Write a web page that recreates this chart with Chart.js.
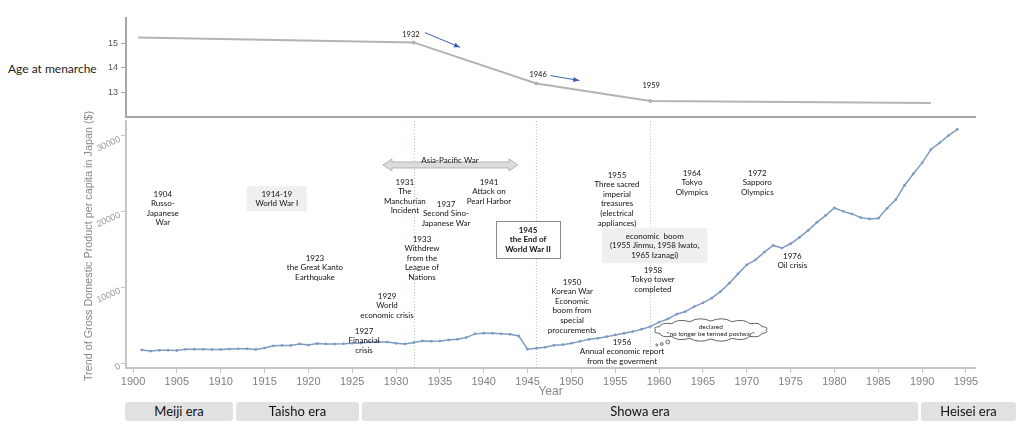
<!DOCTYPE html>
<html>
<head>
<meta charset="utf-8">
<script src="https://cdn.jsdelivr.net/npm/chart.js@4.4.1/dist/chart.umd.min.js"></script>
<style>
  body { margin: 0; background: #fff; width: 1027px; height: 428px; overflow: hidden; position: relative; font-family: Lato, sans-serif; }
  #menarche { position: absolute; left: 8px; top: 61px; font-size: 12px; color: #222; }
  canvas { position: absolute; left: 0; }
  .era { position: absolute; top: 402px; height: 19px; background: #e1e1e1; border-radius: 3px; font-size: 13px; color: #111; text-align: center; line-height: 19px; }
</style>
</head>
<body>
<div id="menarche">Age at menarche</div>
<canvas id="ageChart" width="1027" height="125" style="top:0"></canvas>
<canvas id="gdpChart" width="1027" height="295" style="top:105px"></canvas>
<div id="eras"></div>
<script>
// ---- data ----
const ageYears = [1900.6, 1932, 1946, 1959, 1991];
const ageValues = [15.24, 15.04, 13.36, 12.64, 12.56];
const ageMarkedYears = [1932, 1946, 1959];

const gdpYears = [
  1901, 1902, 1903, 1904, 1905, 1906, 1907, 1908, 1909, 1910,
  1911, 1912, 1913, 1914, 1915, 1916, 1917, 1918, 1919, 1920,
  1921, 1922, 1923, 1924, 1925, 1926, 1927, 1928, 1929, 1930,
  1931, 1932, 1933, 1934, 1935, 1936, 1937, 1938, 1939, 1940,
  1941, 1942, 1943, 1944, 1945, 1946, 1947, 1948, 1949, 1950,
  1951, 1952, 1953, 1954, 1955, 1956, 1957, 1958, 1959, 1960,
  1961, 1962, 1963, 1964, 1965, 1966, 1967, 1968, 1969, 1970,
  1971, 1972, 1973, 1974, 1975, 1976, 1977, 1978, 1979, 1980,
  1981, 1982, 1983, 1984, 1985, 1986, 1987, 1988, 1989, 1990,
  1991, 1992, 1993, 1994
];
const gdpValues = [
  1730, 1580, 1680, 1680, 1650, 1810, 1820, 1810, 1800, 1800,
  1840, 1880, 1880, 1800, 1970, 2270, 2320, 2320, 2520, 2370,
  2570, 2520, 2500, 2530, 2600, 2640, 2760, 2780, 2760, 2600,
  2520, 2700, 2910, 2860, 2900, 3050, 3130, 3360, 3850, 3930,
  3930, 3850, 3800, 3570, 1820, 1940, 2070, 2340, 2420, 2600,
  2860, 3130, 3260, 3480, 3710, 3930, 4150, 4460, 4810, 5400,
  5820, 6450, 6800, 7460, 7950, 8570, 9440, 10550, 11780, 12980,
  13640, 14660, 15540, 15190, 15760, 16600, 17530, 18590, 19510, 20490,
  20040, 19700, 19210, 19040, 19120, 20440, 21600, 23490, 25000, 26450,
  28210, 29100, 30060, 30860
];

const xTickYears = [1900, 1905, 1910, 1915, 1920, 1925, 1930, 1935, 1940, 1945,
  1950, 1955, 1960, 1965, 1970, 1975, 1980, 1985, 1990, 1995];
const ageTicks = [13, 14, 15];
const gdpTicks = [0, 10000, 20000, 30000];
const turningYears = [1932, 1946, 1959];
const eraNames = ['Meiji era', 'Taisho era', 'Showa era', 'Heisei era'];

// annotations anchored in data space (year, GDP) for the first text line
const notes = [
  { year: 1903.4, value: 22330, lines: ['1904', 'Russo-', 'Japanese', 'War'] },
  { year: 1916.4, value: 22330, lines: ['1914-19', 'World War I'], box: { w: 60, h: 25, fill: '#efefef' } },
  { year: 1920.75, value: 13880, lines: ['1923', 'the Great Kanto', 'Earthquake'] },
  { year: 1928.97, value: 8850, lines: ['1929', 'World', 'economic crisis'] },
  { year: 1926.35, value: 4230, lines: ['1927', 'Financial', 'crisis'] },
  { year: 1931.0, value: 23920, lines: ['1931', 'The', 'Manchurian', 'Incident'] },
  { year: 1935.7, value: 21010, lines: ['1937', 'Second Sino-', 'Japanese War'] },
  { year: 1940.6, value: 23920, lines: ['1941', 'Attack on', 'Pearl Harbor'] },
  { year: 1932.96, value: 16390, lines: ['1933', 'Withdrew', 'from the', 'League of', 'Nations'] },
  { year: 1945.05, value: 17580, lines: ['1945', 'the End of', 'World War II'], bold: true, box: { w: 64, h: 37, fill: '#fff', stroke: '#8c8c8c' } },
  { year: 1950.07, value: 10700, lines: ['1950', 'Korean War', 'Economic', 'boom from', 'special', 'procurements'] },
  { year: 1955.77, value: 2780, lines: ['1956', 'Annual economic report', 'from the goverment'] },
  { year: 1955.2, value: 24840, lines: ['1955', 'Three sacred', 'imperial', 'treasures', '(electrical', 'appliances)'] },
  { year: 1959.5, value: 16780, lines: ['economic  boom', '(1955 Jinmu, 1958 Iwato,', '1965 Izanagi)'], box: { w: 105, h: 35, fill: '#efefef' } },
  { year: 1959.3, value: 12290, lines: ['1958', 'Tokyo tower', 'completed'] },
  { year: 1963.75, value: 25110, lines: ['1964', 'Tokyo', 'Olympics'] },
  { year: 1971.2, value: 25110, lines: ['1972', 'Sapporo', 'Olympics'] },
  { year: 1975.2, value: 14140, lines: ['1976', 'Oil crisis'] }
];
const warArrow = { from: 1928.5, to: 1943.9, value: 26170, label: 'Asia-Pacific War', labelYear: 1936.15, labelValue: 26830 };
const cloudNote = { year: 1965.9, value: 4360, lines: ['declared', '"no longer be termed postwar"'] };

const ageNotes = [
  { year: 1931.7, value: 15.36, text: '1932' },
  { year: 1946.2, value: 13.72, text: '1946' },
  { year: 1959.1, value: 13.28, text: '1959' }
];
const ageArrows = [
  { x0: 1933.3, y0: 15.44, x1: 1937.3, y1: 14.84 },
  { x0: 1947.6, y0: 13.68, x1: 1950.9, y1: 13.48 }
];

const xMin = 1899.2;
const xMax = 1996.03;

// ---- era strip ----
const eraBoxes = [[125, 108], [236, 123], [362, 556], [921, 95]];
const erasEl = document.getElementById('eras');
eraNames.forEach((name, i) => {
  const d = document.createElement('div');
  d.className = 'era';
  d.style.left = eraBoxes[i][0] + 'px';
  d.style.width = eraBoxes[i][1] + 'px';
  d.textContent = name;
  erasEl.appendChild(d);
});

function arrowHead(ctx, x0, y0, x1, y1, len, half) {
  const a = Math.atan2(y1 - y0, x1 - x0);
  ctx.beginPath();
  ctx.moveTo(x1, y1);
  ctx.lineTo(x1 - len * Math.cos(a) + half * Math.sin(a), y1 - len * Math.sin(a) - half * Math.cos(a));
  ctx.lineTo(x1 - len * Math.cos(a) - half * Math.sin(a), y1 - len * Math.sin(a) + half * Math.cos(a));
  ctx.closePath();
  ctx.fill();
}

const ageDecor = {
  id: 'ageDecor',
  afterDraw(chart) {
    const { ctx, scales: { x, y } } = chart;
    ctx.save();
    ctx.fillStyle = '#111';
    ctx.font = '7.5px Lato';
    ctx.textAlign = 'center';
    ctx.textBaseline = 'middle';
    ageNotes.forEach(n => ctx.fillText(n.text, x.getPixelForValue(n.year), y.getPixelForValue(n.value)));
    ctx.strokeStyle = '#3b63b3';
    ctx.fillStyle = '#3b63b3';
    ctx.lineWidth = 1;
    ageArrows.forEach(a => {
      const px0 = x.getPixelForValue(a.x0), py0 = y.getPixelForValue(a.y0);
      const px1 = x.getPixelForValue(a.x1), py1 = y.getPixelForValue(a.y1);
      ctx.beginPath();
      ctx.moveTo(px0, py0);
      ctx.lineTo(px1, py1);
      ctx.stroke();
      arrowHead(ctx, px0, py0, px1, py1, 6, 2.5);
    });
    ctx.restore();
  }
};

new Chart(document.getElementById('ageChart'), {
  type: 'line',
  data: {
    datasets: [{
      data: ageYears.map((yr, i) => ({ x: yr, y: ageValues[i] })),
      borderColor: '#b3b3b3',
      borderWidth: 2,
      pointRadius: ageYears.map(yr => ageMarkedYears.includes(yr) ? 2 : 0),
      pointBackgroundColor: '#b3b3b3',
      pointBorderWidth: 0,
      tension: 0
    }]
  },
  options: {
    responsive: false,
    animation: false,
    events: [],
    layout: { padding: { left: 0, right: 52, top: 18, bottom: 0 } },
    plugins: { legend: { display: false }, tooltip: { enabled: false } },
    scales: {
      x: {
        type: 'linear', min: xMin, max: xMax,
        ticks: { display: false },
        grid: { drawOnChartArea: false, drawTicks: false, color: '#a6a6a6' },
        border: { color: '#a6a6a6', width: 2 },
        afterFit(s) { s.height = 6; }
      },
      y: {
        min: 12, max: 16.04,
        afterBuildTicks(s) { s.ticks = ageTicks.map(v => ({ value: v })); },
        ticks: { color: '#555', font: { size: 9, family: 'Liberation Sans' }, padding: 3 },
        grid: { drawOnChartArea: false, tickLength: 5, color: '#a6a6a6' },
        border: { color: '#a6a6a6', width: 2 },
        afterFit(s) { s.width = 126; }
      }
    }
  },
  plugins: [ageDecor]
});

function drawCloud(ctx, cx, cy, rx, ry, n, bump) {
  ctx.beginPath();
  for (let i = 0; i <= n; i++) {
    const a = -Math.PI / 2 + i * 2 * Math.PI / n;
    const px = cx + rx * Math.cos(a), py = cy + ry * Math.sin(a);
    if (i === 0) { ctx.moveTo(px, py); continue; }
    const am = a - Math.PI / n;
    const qx = cx + (rx + bump) * Math.cos(am), qy = cy + (ry + bump) * Math.sin(am);
    ctx.quadraticCurveTo(qx, qy, px, py);
  }
  ctx.closePath();
  ctx.fill();
  ctx.stroke();
}

const gdpDecor = {
  id: 'gdpDecor',
  beforeDatasetsDraw(chart) {
    const { ctx, chartArea, scales: { x } } = chart;
    ctx.save();
    ctx.strokeStyle = 'rgba(150,195,150,0.75)';
    ctx.setLineDash([1, 2]);
    ctx.lineWidth = 1;
    turningYears.forEach(yr => {
      const px = Math.round(x.getPixelForValue(yr)) + 0.5;
      ctx.beginPath();
      ctx.moveTo(px, chartArea.top);
      ctx.lineTo(px, chartArea.bottom);
      ctx.stroke();
    });
    ctx.restore();
  },
  afterDraw(chart) {
    const { ctx, chartArea, scales: { x, y } } = chart;
    ctx.save();

    // rotated y tick labels
    ctx.fillStyle = '#999';
    ctx.font = '9px Liberation Sans';
    ctx.textAlign = 'right';
    ctx.textBaseline = 'middle';
    y.ticks.forEach(t => {
      ctx.save();
      ctx.translate(chartArea.left - 6, y.getPixelForValue(t.value) + 3);
      ctx.rotate(-0.42);
      ctx.fillText(String(t.value), 0, 0);
      ctx.restore();
    });

    // axis titles
    ctx.fillStyle = '#888';
    ctx.font = '10.8px Liberation Sans';
    ctx.textAlign = 'center';
    ctx.save();
    ctx.translate(89, chartArea.top + 125);
    ctx.rotate(-Math.PI / 2);
    ctx.fillText('Trend of Gross Domestic Product per capita in Japan ($)', 0, 0);
    ctx.restore();
    ctx.font = '12px Liberation Sans';
    ctx.fillText('Year', (chartArea.left + chartArea.right) / 2, chartArea.bottom + 24);

    // war arrow
    const ax0 = x.getPixelForValue(warArrow.from), ax1 = x.getPixelForValue(warArrow.to);
    const ay = y.getPixelForValue(warArrow.value);
    ctx.fillStyle = '#dcdcdc';
    ctx.strokeStyle = '#b5b5b5';
    ctx.lineWidth = 1;
    ctx.beginPath();
    ctx.moveTo(ax0, ay);
    ctx.lineTo(ax0 + 9, ay - 6);
    ctx.lineTo(ax0 + 9, ay - 3);
    ctx.lineTo(ax1 - 9, ay - 3);
    ctx.lineTo(ax1 - 9, ay - 6);
    ctx.lineTo(ax1, ay);
    ctx.lineTo(ax1 - 9, ay + 6);
    ctx.lineTo(ax1 - 9, ay + 3);
    ctx.lineTo(ax0 + 9, ay + 3);
    ctx.lineTo(ax0 + 9, ay + 6);
    ctx.closePath();
    ctx.fill();
    ctx.stroke();
    ctx.fillStyle = '#111';
    ctx.font = '8px Lato';
    ctx.textBaseline = 'middle';
    ctx.fillText(warArrow.label, x.getPixelForValue(warArrow.labelYear), y.getPixelForValue(warArrow.labelValue));

    // text notes
    const lh = 9.6;
    notes.forEach(n => {
      const cx = x.getPixelForValue(n.year);
      const cy = y.getPixelForValue(n.value);
      if (n.box) {
        const mid = cy + (n.lines.length - 1) * lh / 2;
        ctx.fillStyle = n.box.fill;
        ctx.fillRect(cx - n.box.w / 2, mid - n.box.h / 2, n.box.w, n.box.h);
        if (n.box.stroke) {
          ctx.strokeStyle = n.box.stroke;
          ctx.lineWidth = 1;
          ctx.strokeRect(Math.round(cx - n.box.w / 2) + 0.5, Math.round(mid - n.box.h / 2) + 0.5, n.box.w, n.box.h);
        }
      }
      ctx.fillStyle = '#111';
      ctx.font = (n.bold ? 'bold ' : '') + '8px Lato';
      n.lines.forEach((l, i) => ctx.fillText(l, cx, cy + i * lh));
    });

    // cloud callout
    const ccx = x.getPixelForValue(cloudNote.year);
    const ccy = y.getPixelForValue(cloudNote.value);
    ctx.fillStyle = '#fff';
    ctx.strokeStyle = '#555';
    ctx.lineWidth = 0.9;
    drawCloud(ctx, ccx, ccy, 55, 9, 16, 5);
    [[-54, 15, 1], [-49, 14, 1.4], [-43, 12, 1.9]].forEach(b => {
      ctx.beginPath();
      ctx.arc(ccx + b[0], ccy + b[1], b[2], 0, Math.PI * 2);
      ctx.fill();
      ctx.stroke();
    });
    ctx.fillStyle = '#222';
    ctx.font = '6.5px Lato';
    cloudNote.lines.forEach((l, i) => ctx.fillText(l, ccx, ccy - 3 + i * 7));

    ctx.restore();
  }
};

new Chart(document.getElementById('gdpChart'), {
  type: 'line',
  data: {
    datasets: [{
      data: gdpYears.map((yr, i) => ({ x: yr, y: gdpValues[i] })),
      borderColor: '#7f9bc2',
      borderWidth: 1.5,
      pointRadius: 1.4,
      pointBackgroundColor: '#7f9bc2',
      pointBorderWidth: 0,
      tension: 0
    }]
  },
  options: {
    responsive: false,
    animation: false,
    events: [],
    layout: { padding: { left: 0, right: 52, top: 16, bottom: 0 } },
    plugins: { legend: { display: false }, tooltip: { enabled: false } },
    scales: {
      x: {
        type: 'linear', min: xMin, max: xMax,
        afterBuildTicks(s) { s.ticks = xTickYears.map(v => ({ value: v })); },
        ticks: {
          callback: v => String(v), color: '#808080', autoSkip: false, maxRotation: 0,
          font: { size: 11, family: 'Liberation Sans' }, padding: 2
        },
        grid: { drawOnChartArea: false, tickLength: 5, color: '#c4c4c4' },
        border: { color: '#c4c4c4', width: 2 },
        afterFit(s) { s.height = 32; }
      },
      y: {
        min: -660, max: 31980,
        afterBuildTicks(s) { s.ticks = gdpTicks.map(v => ({ value: v })); },
        ticks: { color: 'rgba(0,0,0,0)', font: { size: 9 } },
        grid: { drawOnChartArea: false, tickLength: 5, color: '#c4c4c4' },
        border: { color: '#c4c4c4', width: 2 },
        afterFit(s) { s.width = 126; }
      }
    }
  },
  plugins: [gdpDecor]
});
</script>
</body>
</html>
